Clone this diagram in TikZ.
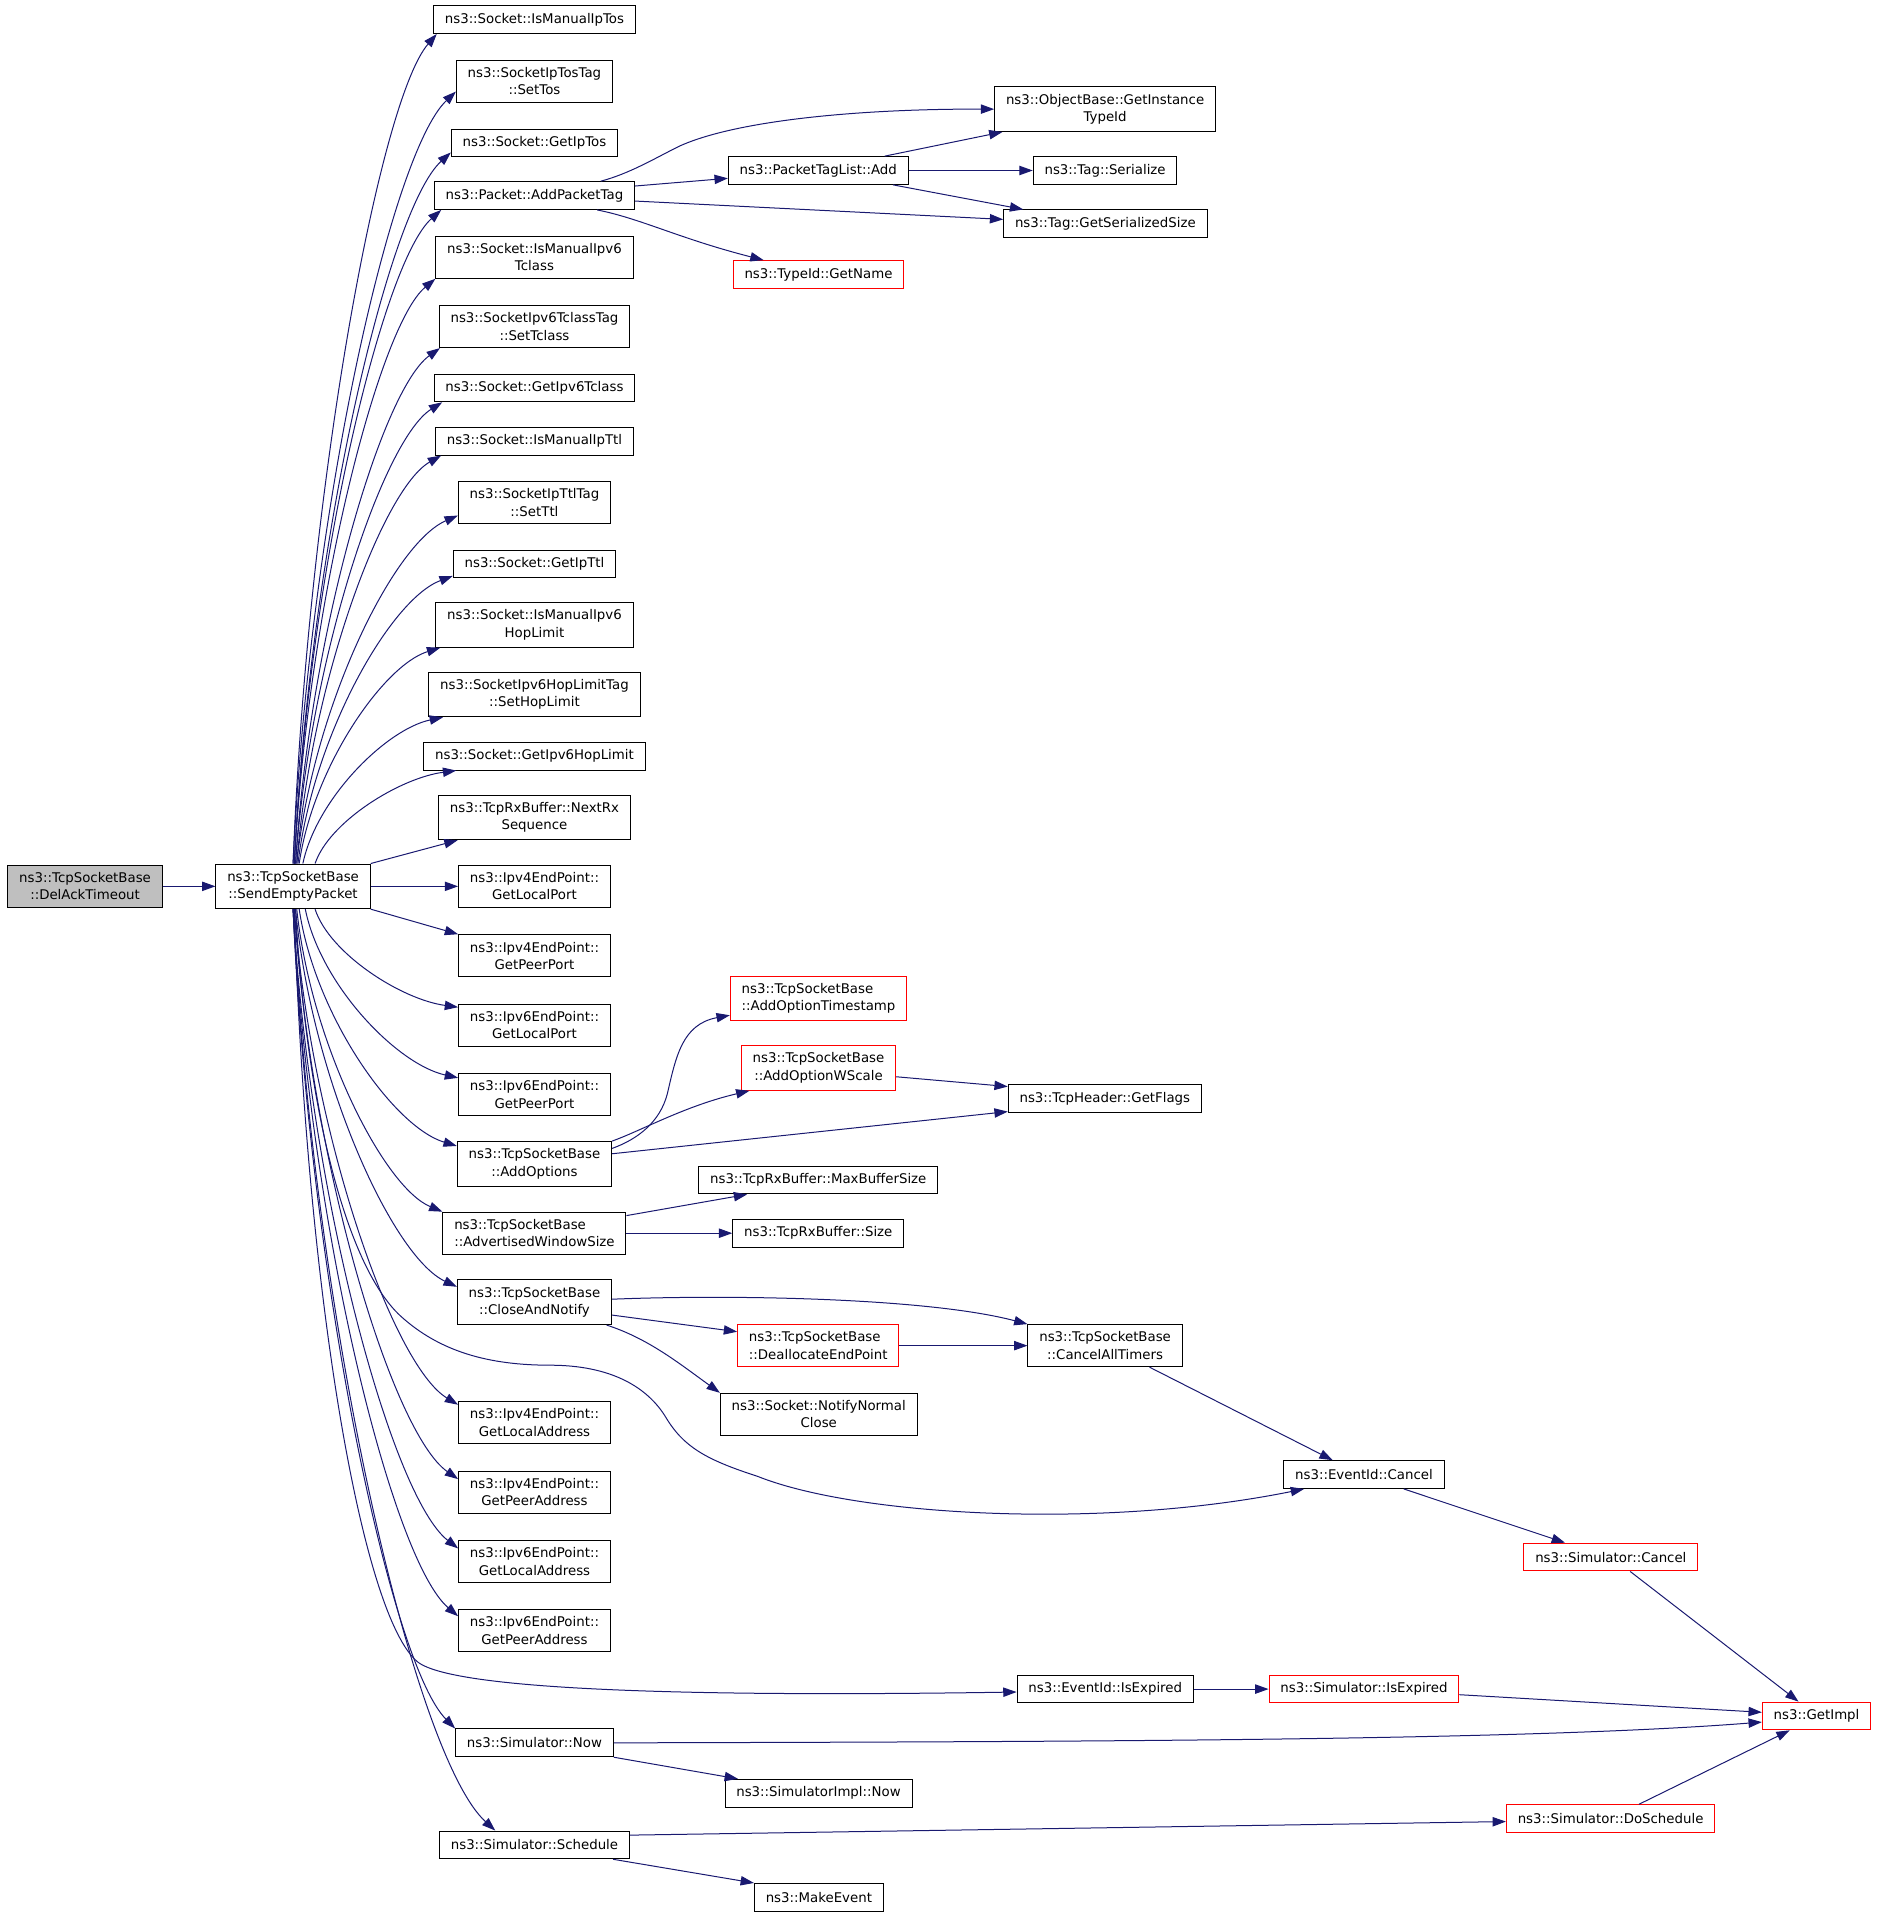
\documentclass[tikz,border=0pt]{standalone}
\usepackage{fontspec}
\setmainfont{DejaVu Sans}
\usetikzlibrary{arrows.meta,calc}

\definecolor{edgeblue}{RGB}{25,25,112}
\definecolor{rootgray}{RGB}{191,191,191}

\tikzset{
  fn/.style={draw=black, line width=0.75pt, fill=white, align=center,
    inner xsep=8.5pt, inner ysep=5.4pt, minimum height=20.8pt,
    font=\fontsize{10}{13}\selectfont},
  trunc/.style={fn, draw=red},
  root/.style={fn, fill=rootgray},
  call/.style={draw=edgeblue, line width=0.75pt, -{Triangle[length=10pt,width=7pt]}},
}

% curved call edge out of the fan
\newcommand\fanedge[2]{%
  \draw[call] let \p1=(#1), \p2=(#2) in (\p1)
    .. controls ({\x1+0.1*(\x2-\x1)},{\y1+0.45*(\y2-\y1)})
    and ({\x2-0.4*(\x2-\x1)},{\y2-0.08*(\y2-\y1)}) .. (\p2);}

\begin{document}
\begin{tikzpicture}[x=0.91667pt, y=-0.91667pt]
  \useasboundingbox (0,0) rectangle (1535.7,1568.5);

  % callers
  \node[root] (del) at (69.6,725.2) {ns3::TcpSocketBase\\::DelAckTimeout};
  \node[fn] (sep) at (239.8,725.2) {ns3::TcpSocketBase\\::SendEmptyPacket};

  % second column
  \node[fn] (imIpTos) at (437.3,16.1) {ns3::Socket::IsManualIpTos};
  \node[fn] (setTos) at (437.3,66.3) {ns3::SocketIpTosTag\\::SetTos};
  \node[fn] (getIpTos) at (437.3,117) {ns3::Socket::GetIpTos};
  \node[fn] (addPT) at (437.3,160) {ns3::Packet::AddPacketTag};
  \node[fn] (imV6Tc) at (437.3,210.5) {ns3::Socket::IsManualIpv6\\Tclass};
  \node[fn] (setTc) at (437.3,267.2) {ns3::SocketIpv6TclassTag\\::SetTclass};
  \node[fn] (getV6Tc) at (437.3,317.4) {ns3::Socket::GetIpv6Tclass};
  \node[fn] (imTtl) at (437.3,361) {ns3::Socket::IsManualIpTtl};
  \node[fn] (setTtl) at (437.3,411.2) {ns3::SocketIpTtlTag\\::SetTtl};
  \node[fn] (getTtl) at (437.3,461.5) {ns3::Socket::GetIpTtl};
  \node[fn] (imHop) at (437.3,511.3) {ns3::Socket::IsManualIpv6\\HopLimit};
  \node[fn] (setHop) at (437.3,568.2) {ns3::SocketIpv6HopLimitTag\\::SetHopLimit};
  \node[fn] (getHop) at (437.3,618.7) {ns3::Socket::GetIpv6HopLimit};
  \node[fn] (nextRx) at (437.3,668.8) {ns3::TcpRxBuffer::NextRx\\Sequence};
  \node[fn] (v4LP) at (437.3,725.2) {ns3::Ipv4EndPoint::\\GetLocalPort};
  \node[fn] (v4PP) at (437.3,782) {ns3::Ipv4EndPoint::\\GetPeerPort};
  \node[fn] (v6LP) at (437.3,838.7) {ns3::Ipv6EndPoint::\\GetLocalPort};
  \node[fn] (v6PP) at (437.3,895.5) {ns3::Ipv6EndPoint::\\GetPeerPort};
  \node[fn] (addOpt) at (437.3,952.3) {ns3::TcpSocketBase\\::AddOptions};
  \node[fn, align=left] (advWin) at (437.3,1009) {ns3::TcpSocketBase\\::AdvertisedWindowSize};
  \node[fn] (close) at (437.3,1065.5) {ns3::TcpSocketBase\\::CloseAndNotify};
  \node[fn] (v4LA) at (437.3,1164) {ns3::Ipv4EndPoint::\\GetLocalAddress};
  \node[fn] (v4PA) at (437.3,1220.8) {ns3::Ipv4EndPoint::\\GetPeerAddress};
  \node[fn] (v6LA) at (437.3,1277.5) {ns3::Ipv6EndPoint::\\GetLocalAddress};
  \node[fn] (v6PA) at (437.3,1334) {ns3::Ipv6EndPoint::\\GetPeerAddress};
  \node[fn] (now) at (437.3,1426) {ns3::Simulator::Now};
  \node[fn] (sched) at (437.3,1509.5) {ns3::Simulator::Schedule};

  % further callees
  \node[fn] (getInst) at (904.2,89.3) {ns3::ObjectBase::GetInstance\\TypeId};
  \node[fn] (ptlAdd) at (669.5,139.5) {ns3::PacketTagList::Add};
  \node[fn] (tagSer) at (904.2,139.5) {ns3::Tag::Serialize};
  \node[fn] (tagGSS) at (904.4,183.1) {ns3::Tag::GetSerializedSize};
  \node[trunc] (getName) at (669.7,224.6) {ns3::TypeId::GetName};
  \node[trunc, align=left] (addTs) at (669.7,817) {ns3::TcpSocketBase\\::AddOptionTimestamp};
  \node[trunc] (addWs) at (669.7,873.8) {ns3::TcpSocketBase\\::AddOptionWScale};
  \node[fn] (getFlags) at (904,899) {ns3::TcpHeader::GetFlags};
  \node[fn] (maxBuf) at (669.5,965.5) {ns3::TcpRxBuffer::MaxBufferSize};
  \node[fn] (rxSize) at (669.5,1009) {ns3::TcpRxBuffer::Size};
  \node[trunc, align=left] (dealloc) at (669.5,1101) {ns3::TcpSocketBase\\::DeallocateEndPoint};
  \node[fn] (cancelAll) at (904.2,1101) {ns3::TcpSocketBase\\::CancelAllTimers};
  \node[fn] (notify) at (669.9,1157.2) {ns3::Socket::NotifyNormal\\Close};
  \node[fn] (evCancel) at (1116,1206.5) {ns3::EventId::Cancel};
  \node[trunc] (simCancel) at (1318,1274) {ns3::Simulator::Cancel};
  \node[fn] (isExp) at (904.3,1382) {ns3::EventId::IsExpired};
  \node[trunc] (simIsExp) at (1116,1382) {ns3::Simulator::IsExpired};
  \node[trunc] (getImpl) at (1486.3,1404) {ns3::GetImpl};
  \node[fn] (simImplNow) at (669.7,1467.2) {ns3::SimulatorImpl::Now};
  \node[trunc] (doSched) at (1317.8,1488) {ns3::Simulator::DoSchedule};
  \node[fn] (makeEv) at (670,1552.4) {ns3::MakeEvent};

  % fan out of SendEmptyPacket
  \draw[call] (del) -- (sep);
  \foreach \t/\a/\b/\c in {imIpTos/0/3/0, setTos/0/0/-9, getIpTos/1/0/-4,
      addPT/1/6/0, imV6Tc/1/0/0, setTc/2/1/0, getV6Tc/2/7/0, imTtl/3/5/0,
      setTtl/3/0/-7, getTtl/4/0/-2, imHop/5/4/0, setHop/8/12/0, getHop/18/27/0}
    \fanedge{[shift={(\a,0)}]sep.north}{[shift={(\b,\c)}]\t.south west};
  \foreach \t/\a/\b/\c in {v6LP/18/0/3, v6PP/10/0/4, addOpt/5/0/4, advWin/3/0/0,
      close/2/0/6, v4LA/1/0/3, v4PA/1/0/7, v6LA/0/0/7, v6PA/0/0/6,
      now/0/0/0, sched/0/46/0}
    \fanedge{[shift={(\a,0)}]sep.south}{[shift={(\b,\c)}]\t.north west};
  \draw[call] (sep.north east) -- ([shift={(16,0)}]nextRx.south west);
  \draw[call] (sep.east) -- (v4LP.west);
  \draw[call] (sep.south east) -- (v4PP.north west);
  \draw[call] ([shift={(2,0)}]sep.south) .. controls (250,900) and (282,1035) .. (328,1077)
    .. controls (360,1106) and (400,1117) .. (450,1117)
    .. controls (500,1117) and (530,1135) .. (545,1160)
    .. controls (560,1185) and (580,1195) .. (620,1208)
    .. controls (700,1240) and (900,1252) .. ([shift={(17,0)}]evCancel.south west);
  \draw[call] ([shift={(1,0)}]sep.south) .. controls (250,1050) and (295,1322) .. (342,1360)
    .. controls (375,1385) and (600,1388) .. ([shift={(0,2.4)}]isExp.west);

  % AddPacketTag
  \draw[call] ([shift={(-28,0)}]addPT.north east) .. controls (515,142) and (535,130) .. (555,120)
    .. controls (600,99) and (700,89) .. (getInst.west);
  \draw[call] ([shift={(0,-7.8)}]addPT.east) -- ([shift={(0,6.4)}]ptlAdd.west);
  \draw[call] ([shift={(0,4.5)}]addPT.east) -- ([shift={(0,-3.6)}]tagGSS.west);
  \draw[call] ([shift={(-31,0)}]addPT.south east) .. controls (525,179) and (555,195)
    .. ([shift={(25.3,0)}]getName.north west);
  \draw[call] ([shift={(-19.6,0)}]ptlAdd.north east) -- ([shift={(6.8,0)}]getInst.south west);
  \draw[call] (ptlAdd.east) -- (tagSer.west);
  \draw[call] ([shift={(-12.8,0)}]ptlAdd.south east) -- ([shift={(16.4,0)}]tagGSS.north west);

  % AddOptions, AdvertisedWindowSize
  \draw[call] ([shift={(0,6)}]addOpt.north east) .. controls (522,932) and (540,918) .. (546,895)
    .. controls (553,865) and (558,838) .. ([shift={(0,-5)}]addTs.south west);
  \draw[call] (addOpt.north east) .. controls (525,925) and (560,905) .. ([shift={(7,0)}]addWs.south west);
  \draw[call] ([shift={(0,-8.3)}]addOpt.east) -- ([shift={(0,10.5)}]getFlags.west);
  \draw[call] ([shift={(0,7.2)}]addWs.east) -- ([shift={(0,-10)}]getFlags.west);
  \draw[call] ([shift={(0,-14.4)}]advWin.east) -- ([shift={(40,0)}]maxBuf.south west);
  \draw[call] (advWin.east) -- (rxSize.west);

  % CloseAndNotify
  \draw[call] ([shift={(0,-2.5)}]close.east) .. controls (600,1059) and (760,1062) .. (cancelAll.north west);
  \draw[call] ([shift={(0,10.5)}]close.east) -- ([shift={(0,-11.4)}]dealloc.west);
  \draw[call] ([shift={(-4.5,0)}]close.south east) .. controls (530,1095) and (555,1115) .. (notify.north west);
  \draw[call] (dealloc.east) -- (cancelAll.west);
  \draw[call] ([shift={(-27.2,0)}]cancelAll.south east) -- ([shift={(40.4,0)}]evCancel.north west);
  \draw[call] ([shift={(-33.4,0)}]evCancel.south east) -- ([shift={(34,0)}]simCancel.north west);
  \draw[call] ([shift={(-55.7,0)}]simCancel.south east) -- ([shift={(30,0)}]getImpl.north west);

  % simulator calls
  \draw[call] (isExp.east) -- (simIsExp.west);
  \draw[call] ([shift={(0,4.6)}]simIsExp.east) -- ([shift={(0,-3)}]getImpl.west);
  \draw[call] (now.east) .. controls (900,1425) and (1250,1424) .. ([shift={(0,5)}]getImpl.west);
  \draw[call] (now.south east) -- ([shift={(11,0)}]simImplNow.north west);
  \draw[call] ([shift={(0,-8)}]sched.east) -- ([shift={(0,2.4)}]doSched.west);
  \draw[call] ([shift={(-13.8,0)}]sched.south east) -- (makeEv.north west);
  \draw[call] ([shift={(23.2,0)}]doSched.north) -- ([shift={(22.8,0)}]getImpl.south west);
\end{tikzpicture}
\end{document}
